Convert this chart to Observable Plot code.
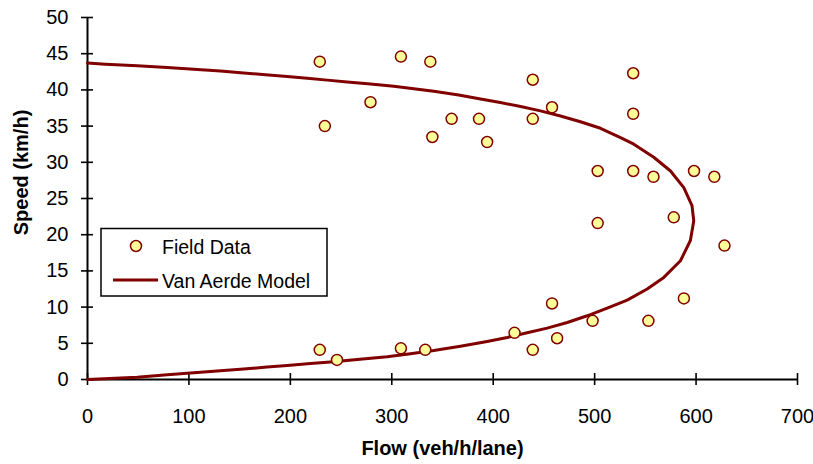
<!DOCTYPE html>
<html><head><meta charset="utf-8">
<script src="https://cdn.jsdelivr.net/npm/d3@7"></script>
<script src="https://cdn.jsdelivr.net/npm/@observablehq/plot@0.6"></script>
<style>
body{margin:0;background:#fff}
svg{font-family:"Liberation Sans",Arial,sans-serif}
</style>
</head><body><div id="chart"></div>
<script>
const fieldFlow  = [229,234,279,309,338,340,359,386,394,439,439,458,538,538,503,538,558,598,618,503,578,628,588,458,421,498,553,463,439,333,229,246,309];
const fieldSpeed = [43.9,35.0,38.3,44.6,43.9,33.5,36.0,36.0,32.8,41.4,36.0,37.6,42.3,36.7,28.8,28.8,28.0,28.8,28.0,21.6,22.4,18.5,11.2,10.5,6.45,8.1,8.1,5.7,4.1,4.1,4.1,2.7,4.3];

const modelFlow  = [0,17.7,49,78.6,104.8,131,154,175.5,196.9,216.6,236.3,256,279,302,321.7,341.4,366,387.5,407,427,446.6,466.3,486,505.8,525.5,538.6,558.3,574.8,587.9,596,597.7,594.4,584.6,568.2,551.8,532.1,512.4,492.7,473,453.2,433.5,413.8,394,367.7,341.4,318.4,295.5,265.9,242.8,219.8,196.9,177,154,131,104.8,78.6,49,0];
const modelSpeed = [43.7,43.55,43.35,43.1,42.85,42.6,42.35,42.1,41.85,41.6,41.35,41.1,40.8,40.5,40.15,39.8,39.3,38.75,38.25,37.7,37.1,36.4,35.6,34.7,33.4,32.5,30.7,28.8,26.5,24.0,21.9,19.2,16.4,14.1,12.5,10.97,9.86,8.8,7.87,7.1,6.45,5.8,5.25,4.6,4.0,3.55,3.15,2.75,2.45,2.2,1.95,1.72,1.45,1.2,0.93,0.65,0.3,0];

const xTicks = [0,100,200,300,400,500,600,700];
const yTicks = [0,5,10,15,20,25,30,35,40,45,50];
const xTitle = "Flow (veh/h/lane)";
const yTitle = "Speed (km/h)";
const legendLabels = ["Field Data", "Van Aerde Model"];

const lineColor = "#800000";
const dotFill = "#FFFF99";

const field = fieldFlow.map((q, i) => ({q, u: fieldSpeed[i]}));
const model = modelFlow.map((q, i) => ({q, u: modelSpeed[i]}));

const chart = Plot.plot({
  width: 813, height: 464,
  marginLeft: 87, marginRight: 16, marginTop: 17, marginBottom: 85,
  x: {domain: [0, 700]},
  y: {domain: [0, 50]},
  style: {fontFamily: '"Liberation Sans", Arial, sans-serif', fontSize: "20px", color: "#000", background: "#fff", overflow: "visible"},
  marks: [
    Plot.axisX({ticks: xTicks, tickSize: 12, dy: -6, tickPadding: 23, label: null, fontSize: 20, strokeWidth: 1.6}),
    Plot.axisY({ticks: yTicks, tickSize: 12, dx: 6, tickPadding: 13, label: null, fontSize: 20, strokeWidth: 1.6}),
    Plot.ruleY([0], {stroke: "#000", strokeWidth: 2}),
    Plot.ruleX([0], {stroke: "#000", strokeWidth: 2}),
    Plot.line(model, {x: "q", y: "u", stroke: lineColor, strokeWidth: 3, curve: "linear"}),
    Plot.dot(field, {x: "q", y: "u", r: 5.5, fill: dotFill, stroke: lineColor, strokeWidth: 1.5}),
    Plot.text([xTitle], {frameAnchor: "bottom", dy: 75.3, lineAnchor: "bottom", textAnchor: "middle", fontSize: 20, fontWeight: "bold", fill: "#000"}),
    Plot.text([yTitle], {frameAnchor: "left", dx: -59.5, dy: -26, rotate: -90, lineAnchor: "bottom", textAnchor: "middle", fontSize: 20, fontWeight: "bold", fill: "#000"})
  ]
});

// legend
const svg = d3.select(chart);
const lg = svg.append("g").attr("text-anchor", "start");
lg.append("rect").attr("x", 101).attr("y", 228.5).attr("width", 226).attr("height", 67.5)
  .attr("fill", "#fff").attr("stroke", "#000").attr("stroke-width", 1.5);
lg.append("circle").attr("cx", 136).attr("cy", 246).attr("r", 5.5)
  .attr("fill", dotFill).attr("stroke", lineColor).attr("stroke-width", 1.5);
lg.append("text").attr("x", 162).attr("y", 254).attr("font-size", 19.5).attr("fill", "#000").text(legendLabels[0]);
lg.append("line").attr("x1", 113).attr("x2", 158).attr("y1", 280).attr("y2", 280)
  .attr("stroke", lineColor).attr("stroke-width", 3);
lg.append("text").attr("x", 162).attr("y", 288).attr("font-size", 19.5).attr("fill", "#000").text(legendLabels[1]);

document.getElementById("chart").appendChild(chart);
</script>
</body></html>
